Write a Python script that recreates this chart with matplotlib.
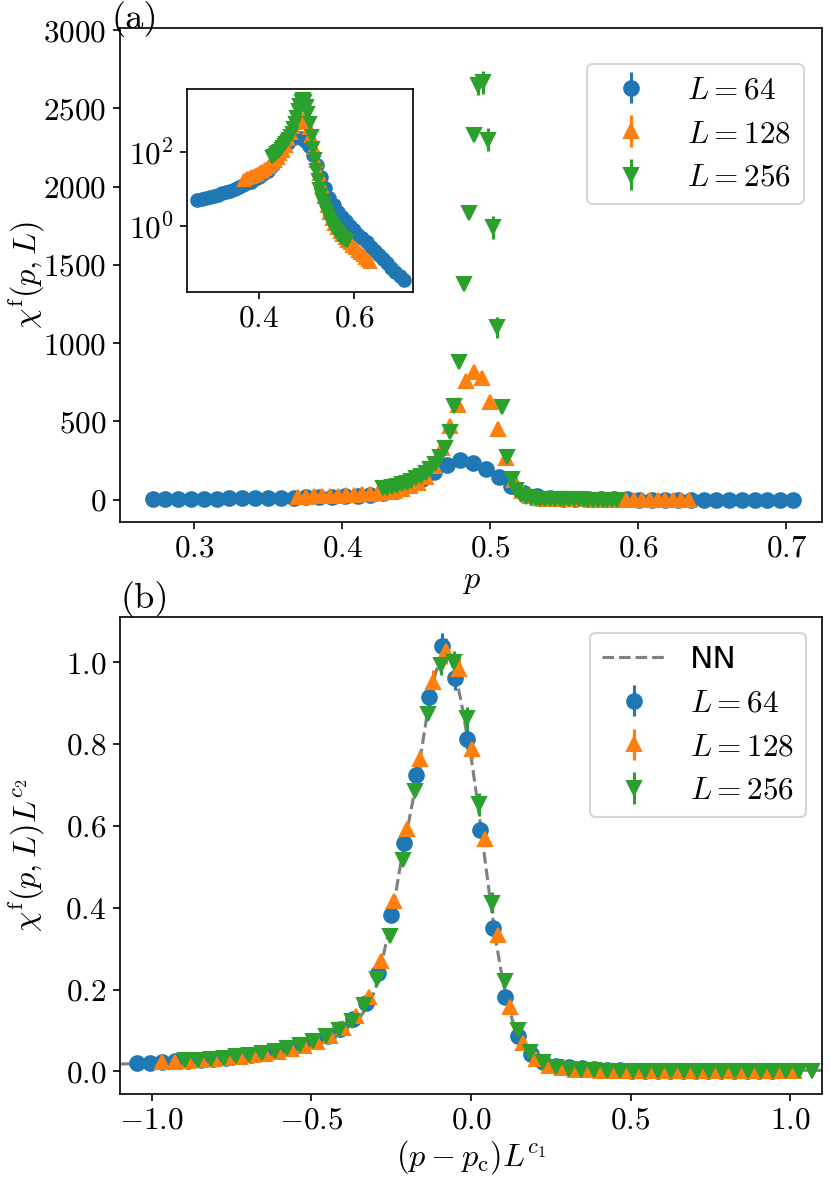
import numpy as np
import matplotlib
matplotlib.use('Agg')
import matplotlib.pyplot as plt
from matplotlib.ticker import FixedLocator, NullLocator

plt.rcParams.update({
    'font.family': 'serif',
    'font.serif': ['cmr10', 'DejaVu Serif'],
    'mathtext.fontset': 'cm',
    'axes.formatter.use_mathtext': True,
    'font.size': 15,
    'xtick.labelsize': 15,
    'ytick.labelsize': 15,
    'xtick.major.pad': 2.5,
    'ytick.major.pad': 3,
    'axes.labelsize': 15.5,
    'axes.labelpad': 2,
    'legend.fontsize': 15,
})

# ---------------- data ----------------
sizes = [64, 128, 256]
labels = [r'$L=64$', r'$L=128$', r'$L=256$']

p_64 = [0.2720, 0.2807, 0.2893, 0.2980, 0.3066, 0.3153, 0.3239, 0.3326, 0.3412, 0.3499,
        0.3585, 0.3672, 0.3758, 0.3845, 0.3931, 0.4018, 0.4104, 0.4191, 0.4277, 0.4364,
        0.4450, 0.4537, 0.4623, 0.4710, 0.4796, 0.4883, 0.4969, 0.5056, 0.5142, 0.5229,
        0.5315, 0.5402, 0.5488, 0.5575, 0.5661, 0.5748, 0.5834, 0.5921, 0.6007, 0.6094,
        0.6180, 0.6267, 0.6353, 0.6440, 0.6526, 0.6613, 0.6699, 0.6786, 0.6872, 0.6959, 0.7045]
chi_64 = [4.8, 5.1, 5.5, 5.9, 6.4, 6.9, 7.4, 8.1, 8.9, 9.9,
          11.0, 12.2, 13.8, 15.6, 18.0, 21, 25, 31, 40, 58,
          92, 134, 174, 220, 250, 231, 195, 142, 84, 44,
          21, 10.5, 5.6, 3.5, 2.4, 1.75, 1.3, 0.97, 0.74, 0.57,
          0.45, 0.35, 0.27, 0.21, 0.16, 0.125, 0.095, 0.073, 0.056, 0.043, 0.033]
err_64 = [0.15, 0.15, 0.16, 0.18, 0.19, 0.21, 0.22, 0.24, 0.27, 0.3,
          0.33, 0.37, 0.41, 0.47, 0.54, 0.63, 0.75, 0.93, 1.2, 1.7,
          2.8, 4.0, 5.2, 6.6, 7.5, 6.9, 5.9, 4.3, 2.5, 1.3,
          0.63, 0.32, 0.17, 0.1, 0.07, 0.05, 0.04, 0.03, 0.02, 0.017,
          0.013, 0.01, 0.008, 0.006, 0.005, 0.004, 0.003, 0.002, 0.0017, 0.0013, 0.001]

p_128 = [0.3705, 0.3759, 0.3813, 0.3867, 0.3921, 0.3974, 0.4028, 0.4082, 0.4136, 0.4190,
         0.4244, 0.4298, 0.4352, 0.4405, 0.4459, 0.4513, 0.4567, 0.4621, 0.4675, 0.4729,
         0.4783, 0.4836, 0.4890, 0.4944, 0.4998, 0.5052, 0.5106, 0.5160, 0.5214, 0.5268,
         0.5321, 0.5375, 0.5429, 0.5483, 0.5537, 0.5591, 0.5645, 0.5699, 0.5752, 0.5806,
         0.5860, 0.5914, 0.5968, 0.6022, 0.6076, 0.6130, 0.6183, 0.6237, 0.6291, 0.6345]
chi_128 = [17.5, 18.9, 20.3, 21.8, 23.5, 25.5, 28, 31, 34.5, 38.5,
           43.5, 49.5, 57, 68, 85, 108, 145, 215, 330, 470,
           605, 755, 815, 780, 625, 450, 265, 125, 56, 25,
           11.5, 5.8, 3.4, 2.2, 1.5, 1.1, 0.85, 0.67, 0.54, 0.45,
           0.38, 0.33, 0.28, 0.24, 0.21, 0.18, 0.155, 0.135, 0.115, 0.1]
err_128 = [0.5, 0.6, 0.6, 0.7, 0.7, 0.8, 0.8, 0.9, 1.0, 1.2,
           1.3, 1.5, 1.7, 2.0, 2.6, 3.2, 4.4, 6.5, 10, 14,
           18, 23, 25, 23, 19, 14, 8, 4, 1.7, 0.8,
           0.3, 0.17, 0.1, 0.07, 0.05, 0.03, 0.025, 0.02, 0.016, 0.014,
           0.011, 0.01, 0.008, 0.007, 0.006, 0.005, 0.005, 0.004, 0.003, 0.003]

p_256 = [0.4273, 0.4305, 0.4338, 0.4370, 0.4402, 0.4435, 0.4467, 0.4499, 0.4531, 0.4564,
         0.4596, 0.4628, 0.4661, 0.4693, 0.4725, 0.4758, 0.4790, 0.4822, 0.4854, 0.4887,
         0.4919, 0.4951, 0.4984, 0.5016, 0.5048, 0.5081, 0.5113, 0.5145, 0.5177, 0.5210,
         0.5242, 0.5274, 0.5307, 0.5339, 0.5371, 0.5404, 0.5436, 0.5468, 0.5500, 0.5533,
         0.5565, 0.5597, 0.5630, 0.5662, 0.5694, 0.5727, 0.5759, 0.5791, 0.5823, 0.5856]
chi_256 = [72, 77, 83, 90, 98, 108, 120, 135, 152, 172,
           196, 228, 272, 330, 430, 600, 880, 1380, 1830, 2330,
           2650, 2665, 2300, 1740, 1100, 590, 270, 130, 62, 32,
           17, 10, 6.8, 5.0, 3.8, 2.9, 2.2, 1.7, 1.35, 1.1,
           0.92, 0.8, 0.7, 0.62, 0.56, 0.5, 0.46, 0.43, 0.41, 0.39]
err_256 = [2.2, 2.3, 2.5, 2.7, 2.9, 3.2, 3.6, 4.1, 4.6, 5.2,
           5.9, 6.8, 8.2, 10, 13, 16, 18, 20, 25, 30,
           65, 75, 75, 75, 68, 25, 10, 5, 2.5, 1.0,
           0.5, 0.3, 0.2, 0.15, 0.11, 0.09, 0.07, 0.05, 0.04, 0.033,
           0.028, 0.024, 0.021, 0.019, 0.017, 0.015, 0.014, 0.013, 0.012, 0.012]

# scaling-collapse parameters used for panel (b)
p_c = 0.4995
x_scale = [4.6, 7.5, 12.4]              # L^{c1} factors
y_scale = [0.00416, 0.00126, 0.000375]  # L^{c2} factors

# NN master curve in panel (b)
nn_x = [-1.2, -1.1, -1.0, -0.9, -0.8, -0.7, -0.6, -0.5, -0.45, -0.4, -0.35, -0.32,
        -0.3, -0.28, -0.26, -0.24, -0.22, -0.2, -0.18, -0.16, -0.14, -0.12, -0.1,
        -0.085, -0.07, -0.05, -0.03, -0.01, 0.0, 0.02, 0.04, 0.06, 0.08, 0.1, 0.12,
        0.14, 0.16, 0.18, 0.2, 0.22, 0.25, 0.3, 0.35, 0.4, 0.5, 0.6, 0.8, 1.0, 1.2]
nn_y = [0.016, 0.018, 0.021, 0.025, 0.030, 0.037, 0.048, 0.066, 0.080, 0.099, 0.13, 0.165,
        0.20, 0.265, 0.335, 0.415, 0.51, 0.59, 0.67, 0.76, 0.86, 0.95, 1.0,
        1.02, 1.015, 0.975, 0.9, 0.81, 0.77, 0.66, 0.54, 0.42, 0.31, 0.22, 0.15,
        0.10, 0.068, 0.046, 0.032, 0.023, 0.016, 0.011, 0.008, 0.0065, 0.005, 0.0042, 0.0035, 0.003, 0.0027]

xticks_a = [0.3, 0.4, 0.5, 0.6, 0.7]
yticks_a = [0, 500, 1000, 1500, 2000, 2500, 3000]
xticks_in = [0.4, 0.6]
yticks_in = [1, 100]
xticks_b = [-1.0, -0.5, 0.0, 0.5, 1.0]
yticks_b = [0.0, 0.2, 0.4, 0.6, 0.8, 1.0]

# ---------------- figure ----------------
W, H = 831, 1179
fig = plt.figure(figsize=(W / 150, H / 150), dpi=150)

def px_axes(l, t, r, b):
    return fig.add_axes([l / W, 1 - b / H, (r - l) / W, (b - t) / H])

ax1 = px_axes(120, 28, 822, 522)
ax2 = px_axes(120, 617, 822, 1094)
axin = px_axes(187, 89, 413, 292)

colors = ['#1f77b4', '#ff7f0e', '#2ca02c']
markers = ['o', '^', 'v']
ps = [p_64, p_128, p_256]
chis = [chi_64, chi_128, chi_256]
errs = [err_64, err_128, err_256]

for p, chi, err, c, m, lab in zip(ps, chis, errs, colors, markers, labels):
    ax1.errorbar(p, chi, yerr=err, fmt=m, color=c, ms=7, label=lab)
    axin.errorbar(p, chi, yerr=err, fmt=m, color=c, ms=6)

ax1.set_xlim(0.25, 0.724)
ax1.set_ylim(-143, 3013)
ax1.set_xticks(xticks_a)
ax1.set_yticks(yticks_a)
ax1.set_xlabel(r'$p$')
ax1.set_ylabel(r'$\chi^{\mathrm{f}}(p,L)$')
ax1.yaxis.set_label_coords(-0.104, 0.5)
fig.text(112 / W, 1 - 1 / H, '(a)', ha='left', va='top', fontsize=17.5)
leg1 = ax1.legend(loc='upper right', bbox_to_anchor=(0.974, 0.927), borderaxespad=0.0)

axin.set_yscale('log')
axin.set_xlim(0.25, 0.724)
axin.set_ylim(10 ** -1.8, 10 ** 3.7)
axin.xaxis.set_major_locator(FixedLocator(xticks_in))
axin.yaxis.set_major_locator(FixedLocator(yticks_in))
axin.yaxis.set_minor_locator(NullLocator())

ax2.plot(nn_x, nn_y, '--', color='gray', lw=1.5, label='NN')
for p, chi, err, c, m, lab, xs, ys in zip(ps, chis, errs, colors, markers, labels, x_scale, y_scale):
    xb = (np.array(p) - p_c) * xs
    yb = np.array(chi) * ys
    eb = np.array(err) * ys
    ax2.errorbar(xb, yb, yerr=eb, fmt=m, color=c, ms=7, label=lab)

ax2.set_xlim(-1.1, 1.1)
ax2.set_ylim(-0.055, 1.11)
ax2.set_xticks(xticks_b)
ax2.set_yticks(yticks_b)
ax2.set_xlabel(r'$(p-p_{\mathrm{c}})L^{c_1}$')
ax2.set_ylabel(r'$\chi^{\mathrm{f}}(p,L)L^{c_2}$')
ax2.yaxis.set_label_coords(-0.104, 0.5)
ax2.text(0.0, 1.0, '(b)', transform=ax2.transAxes, ha='left', va='bottom', fontsize=17.5)
leg2 = ax2.legend(loc='upper right', borderaxespad=0.5)
leg2.get_texts()[0].set_family('DejaVu Sans')

fig.savefig('out.png', dpi=150)
